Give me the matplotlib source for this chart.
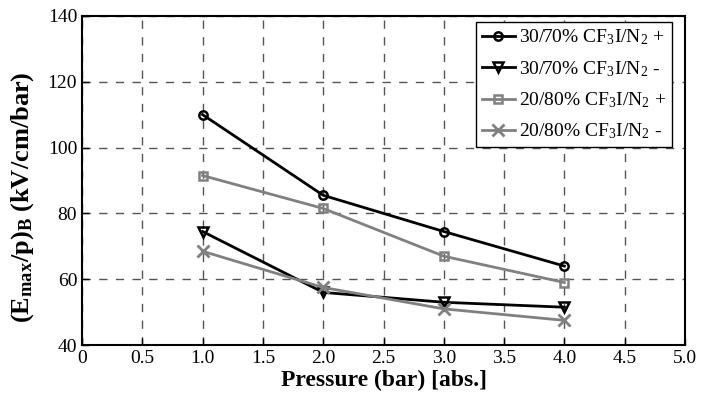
import matplotlib.pyplot as plt
from matplotlib.ticker import FixedLocator, FuncFormatter

# data
pressure = [1.0, 2.0, 3.0, 4.0]
pos_30 = [110.0, 85.5, 74.5, 64.0]
neg_30 = [74.5, 56.0, 53.0, 51.5]
pos_20 = [91.5, 81.5, 67.0, 59.0]
neg_20 = [68.5, 57.5, 51.0, 47.5]

plt.rcParams['font.family'] = ['Liberation Serif', 'DejaVu Serif']
plt.rcParams['mathtext.fontset'] = 'custom'
plt.rcParams['mathtext.rm'] = 'Liberation Serif'
plt.rcParams['mathtext.it'] = 'Liberation Serif:italic'
plt.rcParams['mathtext.bf'] = 'Liberation Serif:bold'

fig = plt.figure(figsize=(7.04, 3.98), dpi=100)
ax = fig.add_axes([0.1165, 0.133, 0.8565, 0.827])

grey = '#808080'
ax.plot(pressure, pos_30, color='black', lw=2, marker='o', ms=6, mfc='none', mew=1.8,
        label=r'30/70% CF$_\mathrm{3}$I/N$_\mathrm{2}$ +')
ax.plot(pressure, neg_30, color='black', lw=2, marker='v', ms=7, mfc='none', mew=1.8,
        label=r'30/70% CF$_\mathrm{3}$I/N$_\mathrm{2}$ -')
ax.plot(pressure, pos_20, color=grey, lw=2, marker='s', ms=6, mfc='none', mew=1.8,
        label=r'20/80% CF$_\mathrm{3}$I/N$_\mathrm{2}$ +')
ax.plot(pressure, neg_20, color=grey, lw=2, marker='x', ms=8, mew=2,
        label=r'20/80% CF$_\mathrm{3}$I/N$_\mathrm{2}$ -')

ax.set_xlim(0, 5)
ax.set_ylim(40, 140)
ax.xaxis.set_major_locator(FixedLocator([0, 0.5, 1, 1.5, 2, 2.5, 3, 3.5, 4, 4.5, 5]))
ax.xaxis.set_major_formatter(FuncFormatter(lambda v, p: '0' if v == 0 else f'{v:.1f}'))
ax.yaxis.set_major_locator(FixedLocator([40, 60, 80, 100, 120, 140]))
ax.tick_params(direction='in', labelsize=14, length=5, width=1)
ax.grid(True, color='#555555', ls=(0, (6, 6)), lw=1)
for s in ax.spines.values():
    s.set_linewidth(1.5)

ax.set_xlabel('Pressure (bar) [abs.]', fontsize=17, fontweight='bold', labelpad=2)
ax.set_ylabel(r'(E$_{\mathbf{max}}$/p)$_{\mathbf{B}}$ (kV/cm/bar)', fontsize=19,
              fontweight='bold')
ax.yaxis.set_label_coords(-0.077, 0.45)

leg = ax.legend(loc='upper right', bbox_to_anchor=(0.978, 0.982), fontsize=14,
                frameon=True, fancybox=False, edgecolor='black', framealpha=1,
                handlelength=1.7, borderpad=0.3, labelspacing=0.6,
                handletextpad=0.2, borderaxespad=0)
leg.get_frame().set_linewidth(1)

fig.savefig('out.png', dpi=100)
